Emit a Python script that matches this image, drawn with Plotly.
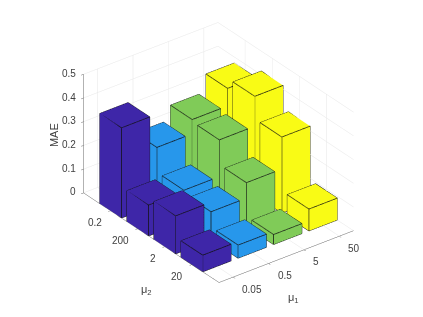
import plotly.graph_objects as go

mu1_labels = ["0.05", "0.5", "5", "50"]
mu2_labels = ["0.2", "200", "2", "20"]
z_ticks = [0, 0.1, 0.2, 0.3, 0.4, 0.5]
mae_mu1_005 = [0.38, 0.13, 0.16, 0.07]
mae_mu1_05 = [0.24, 0.135, 0.12, 0.055]
mae_mu1_5 = [0.30, 0.29, 0.185, 0.042]
mae_mu1_50 = [0.374, 0.416, 0.32, 0.092]
series = [mae_mu1_005, mae_mu1_05, mae_mu1_5, mae_mu1_50]
colors = ["#3e26a8", "#2797eb", "#80cb58", "#f9fb15"]
bar_width = 0.8
n = len(mu2_labels)
h = bar_width / 2
XR = [0.6, 4.4]
YR = [0, 5]
ZR = [0, 0.5]
TRI = [(0,1,2),(0,2,3),(4,5,6),(4,6,7),(0,1,5),(0,5,4),(1,2,6),(1,6,5),(2,3,7),(2,7,6),(3,0,4),(3,4,7)]
EDGES = [0,1,2,3,0,4,5,6,7,4,None,1,5,None,2,6,None,3,7]
fig = go.Figure()
for i, (vals, col) in enumerate(zip(series, colors), start=1):
    X,Y,Z,I,J,K,LX,LY,LZ = [],[],[],[],[],[],[],[],[]
    for j, v in enumerate(vals, start=1):
        yp = n + 1 - j  # MATLAB bar3 reversed Y direction
        base = len(X)
        cx = [i-h,i+h,i+h,i-h]*2
        cy = [yp-h,yp-h,yp+h,yp+h]*2
        cz = [0]*4+[v]*4
        X+=cx;Y+=cy;Z+=cz
        for a,b,c in TRI:
            I.append(base+a);J.append(base+b);K.append(base+c)
        for e in EDGES:
            LX.append(None if e is None else cx[e])
            LY.append(None if e is None else cy[e])
            LZ.append(None if e is None else cz[e])
        LX.append(None);LY.append(None);LZ.append(None)
    fig.add_trace(go.Mesh3d(x=X,y=Y,z=Z,i=I,j=J,k=K,color=col,flatshading=True,
        lighting=dict(ambient=1,diffuse=0,specular=0,roughness=1,fresnel=0),hoverinfo="skip",showscale=False))
    fig.add_trace(go.Scatter3d(x=LX,y=LY,z=LZ,mode="lines",line=dict(color="#111111",width=1.5),hoverinfo="skip",showlegend=False))
axcom = dict(showbackground=False,showgrid=True,gridcolor="#e6e6e6",gridwidth=1,showline=True,linecolor="#666666",linewidth=1,
    zeroline=False,ticks="inside",ticklen=3,tickcolor="#666666",showticklabels=False,showspikes=False,title_text="")
font = dict(family="Liberation Sans",size=10,color="#404040")
ann = []
def add(x,y,z,text,xa,xs,ys,size=10,angle=0):
    ann.append(dict(x=x,y=y,z=z,text=text,showarrow=False,xanchor=xa,yanchor="middle",xshift=xs,yshift=ys,
                    textangle=angle,font=dict(font,size=size)))
for v in z_ticks:
    add(XR[0],YR[1],v,f"{v:g}","right",-5,1)
for j,lab in enumerate(mu2_labels,start=1):
    add(XR[0],n+1-j,0,lab,"right",-7,-11.5)
for i,lab in enumerate(mu1_labels,start=1):
    add(i,YR[0],0,lab,"left",7,-12)
add(XR[0],YR[1],0.25,"MAE","center",-30,-1,size=11,angle=-90)
add(XR[0],2.5,0,"μ<sub>2</sub>","center",-5,-52,size=11)
add(2.5,YR[0],0,"μ<sub>1</sub>","center",7.5,-41,size=11)
d = 2
k = 1.171
fig.update_layout(width=423,height=317,margin=dict(l=0,r=0,t=0,b=0),paper_bgcolor="white",showlegend=False,
  scene=dict(domain=dict(x=[0,421/423],y=[28/317,1]),
    xaxis=dict(axcom,range=XR,tickvals=[1,2,3,4]),
    yaxis=dict(axcom,range=YR,tickvals=[4,3,2,1]),
    zaxis=dict(axcom,range=ZR,tickvals=z_ticks),
    annotations=ann,
    aspectmode="manual",aspectratio=dict(x=1*k,y=1.32*k,z=0.812*k),
    camera=dict(projection=dict(type="orthographic"),up=dict(x=0,y=0,z=1),center=dict(x=0,y=0,z=0),
       eye=dict(x=-.5236*d,y=-.6862*d,z=.5049*d))))
fig.write_html("out.html",config=dict(displayModeBar=False))
